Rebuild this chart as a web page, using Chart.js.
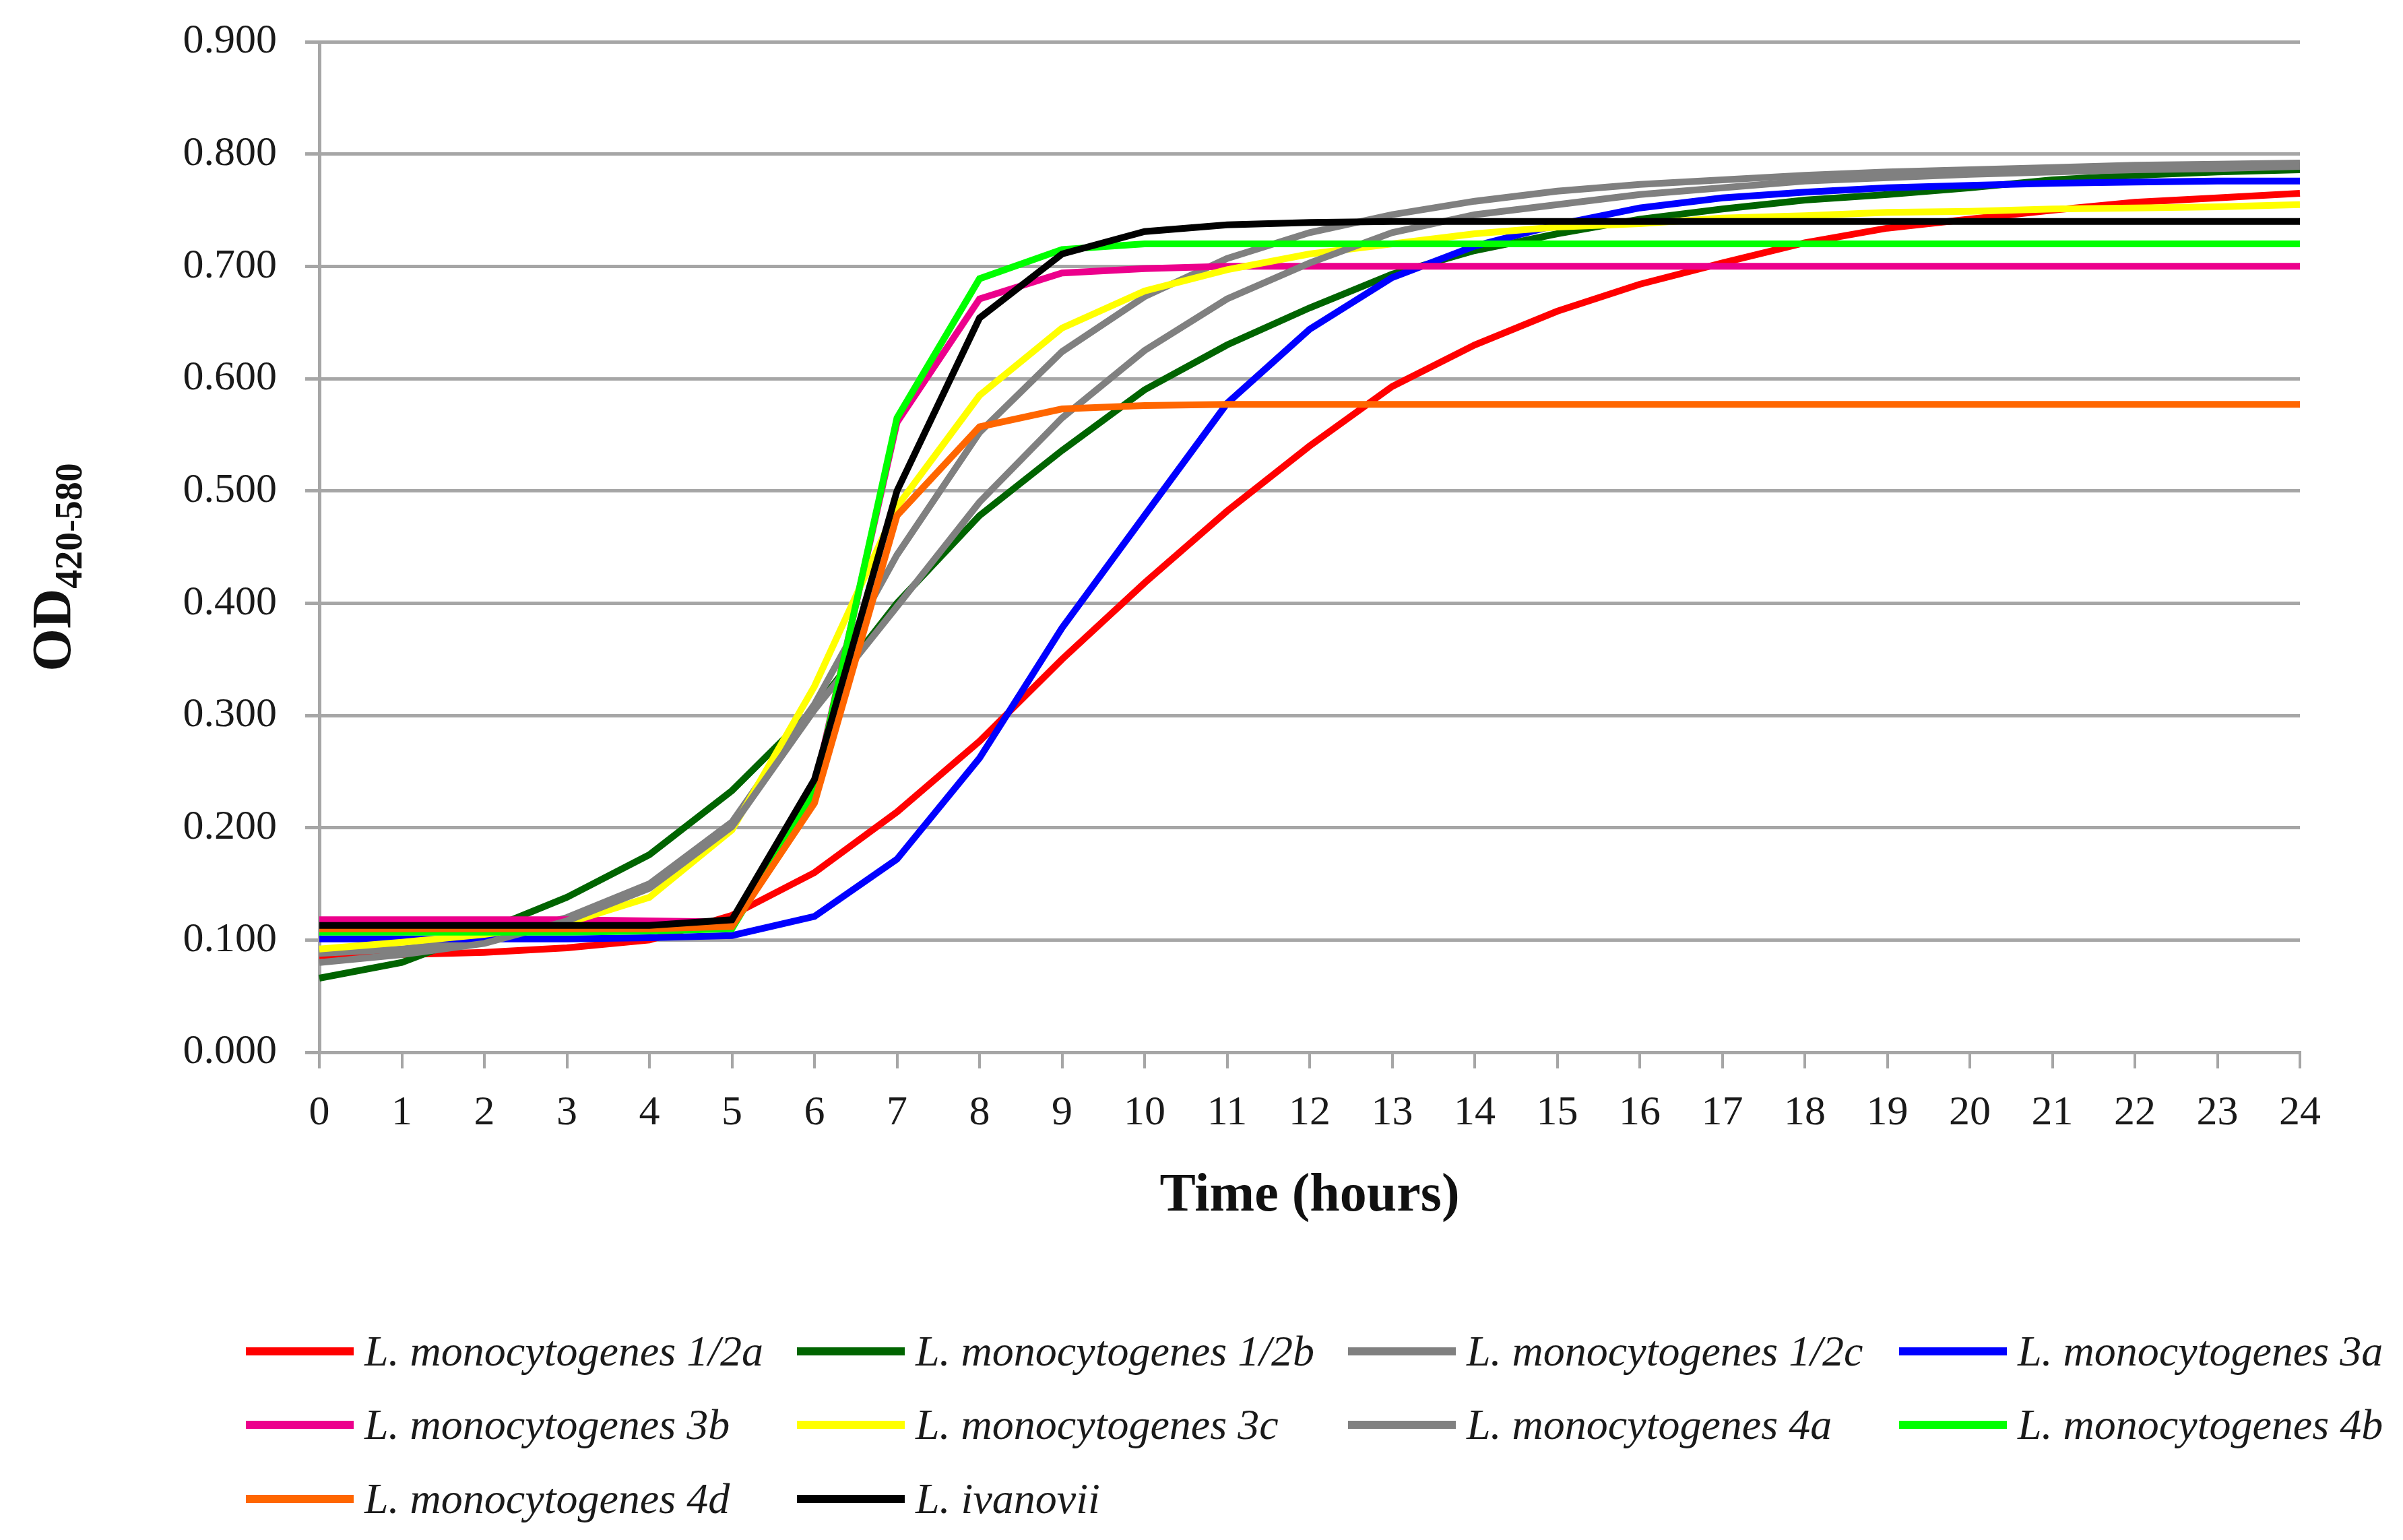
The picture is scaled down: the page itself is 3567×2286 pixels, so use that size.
<!DOCTYPE html>
<html>
<head>
<meta charset="utf-8">
<script src="https://cdn.jsdelivr.net/npm/chart.js@4.4.1/dist/chart.umd.min.js"></script>
<style>
  html, body { margin: 0; padding: 0; background: #fff; }
  #wrap { position: relative; width: 3567px; height: 2286px; background: #fff; }
  #chart { position: absolute; left: 0; top: 0; }
  #legend { position: absolute; left: 0; top: 0; width: 3567px; height: 2286px; pointer-events: none; }
  .item { position: absolute; height: 80px; display: flex; align-items: center; white-space: nowrap;
          font-family: "Liberation Serif", serif; font-style: italic; font-size: 64px; color: #1a1a1a; }
  .swatch { display: inline-block; width: 160px; height: 12px; margin-right: 16px; }
</style>
</head>
<body>
<div id="wrap">
  <canvas id="chart" width="3567" height="1850"></canvas>
  <div id="legend"></div>
</div>
<script>
const hours = ['0','1','2','3','4','5','6','7','8','9','10','11','12','13','14','15','16','17','18','19','20','21','22','23','24'];

const strains = [
  'L. monocytogenes 1/2a', 'L. monocytogenes 1/2b', 'L. monocytogenes 1/2c', 'L. monocytogenes 3a',
  'L. monocytogenes 3b', 'L. monocytogenes 3c', 'L. monocytogenes 4a', 'L. monocytogenes 4b',
  'L. monocytogenes 4d', 'L. ivanovii'
];

const colors = ['#ff0000', '#006400', '#808080', '#0000ff', '#ec008c', '#ffff00', '#808080', '#00ff00', '#ff6600', '#000000'];

const od12a = [0.086,0.087,0.089,0.093,0.100,0.122,0.160,0.214,0.277,0.350,0.418,0.482,0.540,0.593,0.630,0.660,0.684,0.703,0.721,0.734,0.742,0.750,0.757,0.761,0.765];
const od12b = [0.066,0.080,0.108,0.138,0.176,0.233,0.306,0.400,0.478,0.536,0.590,0.630,0.663,0.693,0.714,0.729,0.742,0.751,0.759,0.764,0.770,0.777,0.781,0.784,0.786];
const od12c = [0.088,0.092,0.100,0.120,0.150,0.205,0.310,0.443,0.552,0.624,0.673,0.707,0.730,0.746,0.758,0.767,0.773,0.777,0.781,0.784,0.786,0.788,0.790,0.791,0.792];
const od3a  = [0.101,0.101,0.101,0.101,0.102,0.104,0.121,0.172,0.262,0.378,0.478,0.578,0.644,0.690,0.718,0.737,0.752,0.761,0.766,0.770,0.772,0.774,0.775,0.776,0.776];
const od3b  = [0.118,0.118,0.118,0.118,0.117,0.116,0.235,0.561,0.671,0.694,0.698,0.700,0.700,0.700,0.700,0.700,0.700,0.700,0.700,0.700,0.700,0.700,0.700,0.700,0.700];
const od3c  = [0.092,0.098,0.105,0.115,0.138,0.198,0.326,0.486,0.585,0.645,0.678,0.697,0.711,0.720,0.729,0.735,0.738,0.743,0.745,0.748,0.749,0.751,0.752,0.753,0.755];
const od4a  = [0.080,0.087,0.097,0.117,0.146,0.201,0.305,0.397,0.490,0.565,0.625,0.671,0.703,0.730,0.746,0.755,0.764,0.770,0.776,0.779,0.782,0.784,0.786,0.787,0.789];
const od4b  = [0.107,0.107,0.107,0.107,0.108,0.110,0.232,0.565,0.689,0.715,0.720,0.720,0.720,0.720,0.720,0.720,0.720,0.720,0.720,0.720,0.720,0.720,0.720,0.720,0.720];
const od4d  = [0.110,0.110,0.110,0.110,0.110,0.112,0.222,0.478,0.557,0.573,0.576,0.577,0.577,0.577,0.577,0.577,0.577,0.577,0.577,0.577,0.577,0.577,0.577,0.577,0.577];
const odIva = [0.113,0.113,0.113,0.113,0.113,0.118,0.243,0.500,0.654,0.711,0.731,0.737,0.739,0.740,0.740,0.740,0.740,0.740,0.740,0.740,0.740,0.740,0.740,0.740,0.740];

const series = [od12a, od12b, od12c, od3a, od3b, od3c, od4a, od4b, od4d, odIva];

const gridGray = '#a6a6a6';
const serif = '"Liberation Serif", "Times New Roman", serif';

// y axis title with subscript, drawn on the canvas
const yTitle = {
  id: 'yTitle',
  afterDraw(chart) {
    const ctx = chart.ctx;
    ctx.save();
    ctx.translate(104, 842);
    ctx.rotate(-Math.PI / 2);
    ctx.fillStyle = '#111';
    ctx.textBaseline = 'alphabetic';
    ctx.font = 'bold 82px ' + serif;
    const wMain = ctx.measureText('OD').width;
    ctx.font = 'bold 56px ' + serif;
    const wSub = ctx.measureText('420-580').width;
    const x0 = -(wMain + wSub) / 2;
    ctx.font = 'bold 82px ' + serif;
    ctx.fillText('OD', x0, 0);
    ctx.font = 'bold 56px ' + serif;
    ctx.fillText('420-580', x0 + wMain, 17);
    ctx.restore();
  }
};

const chart = new Chart(document.getElementById('chart'), {
  type: 'line',
  data: {
    labels: hours,
    datasets: series.map((values, i) => ({
      label: strains[i],
      data: values,
      borderColor: colors[i],
      backgroundColor: colors[i],
      borderWidth: 10,
      pointRadius: 0,
      tension: 0,
      fill: false,
      order: series.length - i
    }))
  },
  options: {
    responsive: false,
    animation: false,
    devicePixelRatio: 1,
    layout: { padding: { top: 62, right: 153, bottom: 0, left: 0 } },
    plugins: {
      legend: { display: false },
      tooltip: { enabled: false }
    },
    scales: {
      x: {
        grid: { drawOnChartArea: false, drawTicks: true, tickLength: 24, color: gridGray, lineWidth: 4 },
        border: { display: true, color: gridGray, width: 5 },
        ticks: { autoSkip: false, maxRotation: 0, padding: 30, color: '#1a1a1a', font: { family: serif, size: 62 } },
        title: { display: true, text: 'Time (hours)', color: '#111', padding: { top: 0, bottom: 26 }, font: { family: serif, size: 80, weight: 'bold' } },
        afterFit(scale) { scale.height = 288; }
      },
      y: {
        min: 0,
        max: 0.9,
        grid: { drawTicks: true, tickLength: 21, color: gridGray, lineWidth: 5 },
        border: { display: true, color: gridGray, width: 5 },
        ticks: { stepSize: 0.1, padding: 42, color: '#1a1a1a', font: { family: serif, size: 62 },
                 callback: v => v.toFixed(3) },
        afterFit(scale) {
          scale.width = 474;
          // keep the label padding from pushing the plot area down
          scale.paddingTop = 20;
          scale.paddingBottom = 20;
        }
      }
    }
  },
  plugins: [yTitle]
});

// legend laid out on a fixed 4-column grid like the original
const legendBox = document.getElementById('legend');
const colLeft = [365, 1183, 2001, 2819];
const rowMid = [2006, 2115, 2225];
chart.data.datasets.forEach((ds, i) => {
  const item = document.createElement('div');
  item.className = 'item';
  item.style.left = colLeft[i % 4] + 'px';
  item.style.top = (rowMid[Math.floor(i / 4)] - 40) + 'px';
  const sw = document.createElement('span');
  sw.className = 'swatch';
  sw.style.background = ds.borderColor;
  item.appendChild(sw);
  item.appendChild(document.createTextNode(ds.label));
  legendBox.appendChild(item);
});
</script>
</body>
</html>
